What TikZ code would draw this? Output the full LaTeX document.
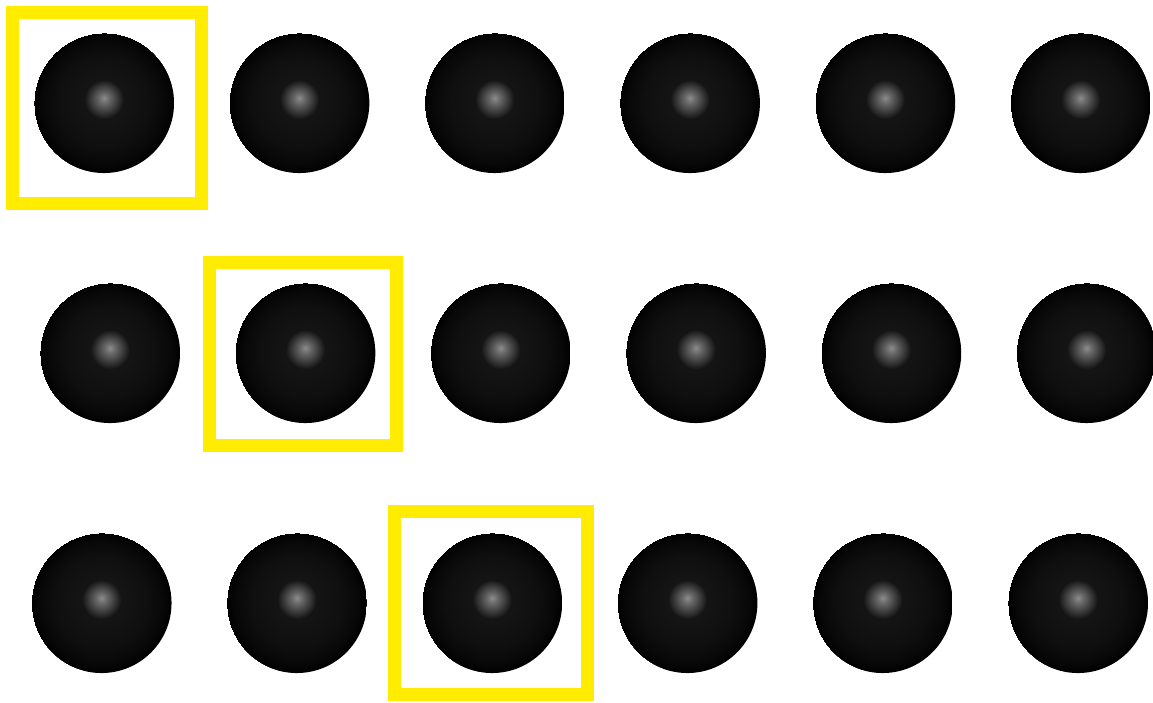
\documentclass[tikz,border=0pt]{standalone}
\definecolor{boxyellow}{RGB}{255,236,0}
% soft highlight a little above the middle of each ball
\pgfdeclareradialshading{sphereglow}{\pgfpoint{0bp}{1.8bp}}{%
  color(0bp)=(black!45); color(2bp)=(black!60); color(7bp)=(black!92);
  color(16bp)=(black!94); color(22bp)=(black!97); color(25bp)=(black)}
\tikzset{
  sphere/.style={circle, minimum size=1.4cm, inner sep=0pt, shading=sphereglow},
  pickbox/.style={draw=boxyellow, line width=0.13cm, inner sep=0pt}
}
\begin{document}
\begin{tikzpicture}[x=0.01cm, y=-0.01cm]
  \clip (0,0) rectangle (1153,703);
  \fill[white] (0,0) rectangle (1153,703);
  % Balls, three rows of six
  \foreach \r/\yy/\xo in {1/103/104, 2/353/110, 3/603/101.5}
    \foreach \c in {1,...,6}
      \node[sphere] (s\r\c) at ({\xo+195.3*(\c-1)},\yy) {};
  % Yellow frames, one per row
  \node[pickbox, minimum width=1.88cm, minimum height=1.91cm] (b1) at ([shift={(3,5)}]s11.center) {};
  \node[pickbox, minimum width=1.87cm, minimum height=1.83cm] (b2) at ([shift={(-2,1)}]s22.center) {};
  \node[pickbox, minimum width=1.93cm, minimum height=1.82cm] (b3) at ([shift={(-1,0)}]s33.center) {};
\end{tikzpicture}
\end{document}
